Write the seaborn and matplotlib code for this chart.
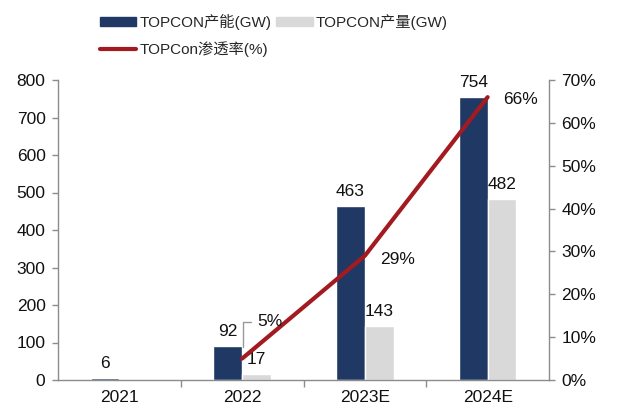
import matplotlib
matplotlib.use("Agg")
import matplotlib.pyplot as plt
import seaborn as sns
import pandas as pd
import numpy as np
from matplotlib.patches import Patch
from matplotlib.lines import Line2D
from matplotlib.ticker import FuncFormatter, FixedLocator

years = ["2021", "2022", "2023E", "2024E"]
capacity = [6, 92, 463, 754]
production = [np.nan, 17, 143, 482]
pen_years = ["2022", "2023E", "2024E"]
penetration = [0.05, 0.29, 0.66]

NAVY = "#1f3864"
GRAY = "#d9d9d9"
RED = "#a31b20"
AXIS = "#8c8c8c"
FS = 12.5

sns.set_theme(style="white")
plt.rcParams['font.family'] = ['Liberation Sans', 'Noto Sans CJK SC', 'DejaVu Sans']

df = pd.DataFrame({
    "year": years * 2,
    "value": capacity + production,
    "kind": ["cap"] * 4 + ["prod"] * 4,
})

fig = plt.figure(figsize=(6.39, 4.16), dpi=100)
ax = fig.add_axes([58 / 639, 1 - 380 / 416, (549 - 58) / 639, 300 / 416])
sns.barplot(data=df, x="year", y="value", hue="kind", order=years,
            palette=[NAVY, GRAY], width=0.47, saturation=1, legend=False, ax=ax)
ax.set_xlim(-0.5, 3.5)
ax.set_ylim(0, 800)
ax.set_yticks(range(0, 801, 100))
ax.set_xlabel(None)
ax.set_ylabel(None)

# value labels on bars
for i, v in enumerate(capacity):
    ax.annotate(f"{v}", (i - 0.1175, v), xytext=(0, 5), textcoords="offset points",
                ha="center", va="bottom", fontsize=FS, color="#111111")
for i, v in enumerate(production):
    if np.isnan(v):
        continue
    ax.annotate(f"{v:.0f}", (i + 0.1175, v), xytext=(0, 5), textcoords="offset points",
                ha="center", va="bottom", fontsize=FS, color="#111111")

ax2 = ax.twinx()
pen_x = [years.index(y) for y in pen_years]
sns.lineplot(x=pen_x, y=penetration, color=RED, linewidth=3, ax=ax2)
ax2.set_ylim(0, 0.7)
ax2.set_yticks(np.arange(0, 0.71, 0.1))
ax2.yaxis.set_major_formatter(FuncFormatter(lambda v, p: f"{v * 100:.0f}%"))
ax2.set_xlim(-0.5, 3.5)

# penetration labels
ax2.annotate("5%", xy=(pen_x[0] + 0.01, 0.078), xytext=(1.12, 0.136),
             ha="left", va="center", fontsize=FS, color="#111111",
             arrowprops=dict(arrowstyle="-", color="#999999", lw=1,
                             connectionstyle="angle,angleA=0,angleB=90,rad=0",
                             shrinkA=2, shrinkB=0))
ax2.annotate("29%", (pen_x[1], penetration[1]), xytext=(11, -3), textcoords="offset points",
             ha="left", va="center", fontsize=FS, color="#111111")
ax2.annotate("66%", (pen_x[2], penetration[2]), xytext=(11, -2), textcoords="offset points",
             ha="left", va="center", fontsize=FS, color="#111111")

for a in (ax, ax2):
    a.spines["top"].set_visible(False)
    for s in ("left", "right", "bottom"):
        a.spines[s].set_color(AXIS)
        a.spines[s].set_linewidth(1)
    a.tick_params(axis="y", length=4, width=1, color=AXIS, labelsize=FS, labelcolor="#111111")
ax.spines["right"].set_visible(False)
ax2.spines["left"].set_visible(False)
ax2.spines["bottom"].set_visible(False)
ax.tick_params(axis="y", direction="out", left=True, pad=5)
ax2.tick_params(axis="y", direction="out", right=True, pad=5)

ax.set_xticks(range(len(years)))
ax.set_xticklabels(years)
ax.tick_params(axis="x", length=0, labelsize=FS, labelcolor="#111111", pad=7)
ax.xaxis.set_minor_locator(FixedLocator([0.5, 1.5, 2.5]))
ax.tick_params(axis="x", which="minor", bottom=True, length=5, width=1, color=AXIS, direction="out")

handles = [Patch(color=NAVY, label="TOPCON产能(GW)"),
           Line2D([], [], color=RED, lw=3, label="TOPCon渗透率(%)"),
           Patch(color=GRAY, label="TOPCON产量(GW)")]
fig.legend(handles=handles, ncol=2, loc="upper left", bbox_to_anchor=(86 / 639, 1.0),
           frameon=False, fontsize=11, handlelength=2.4, handleheight=0.6,
           handletextpad=0.2, columnspacing=0.3, labelspacing=0.75)

fig.savefig("out.png", dpi=100)
